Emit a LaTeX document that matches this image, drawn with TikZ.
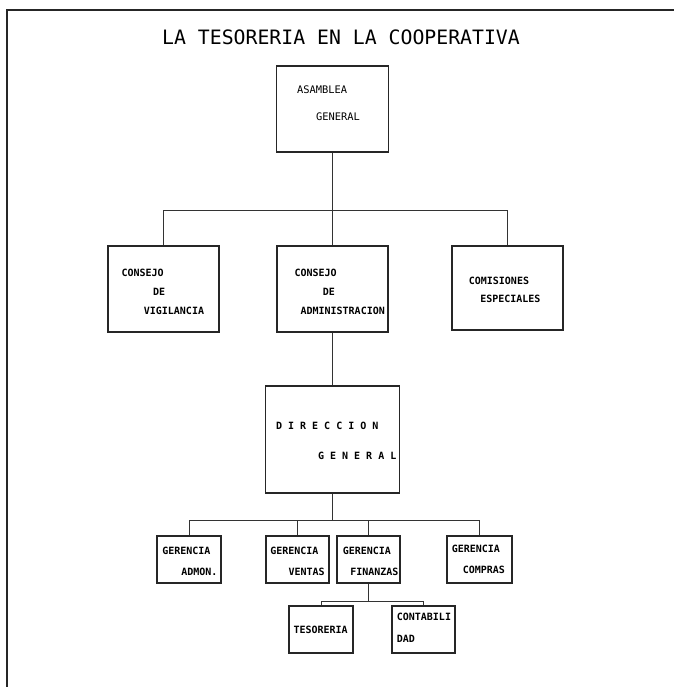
\documentclass[tikz,border=0pt]{standalone}
\usepackage{fontspec}
\setmonofont{DejaVu Sans Mono}
\usetikzlibrary{positioning}
\tikzstyle{cuadro} = [rectangle,
                     draw=black!85,
                     line width=1.3pt,
                     inner sep=0pt]
\tikzstyle{rotulo} = [align=left,
                     inner sep=0pt,
                     font=\ttfamily\bfseries\fontsize{10}{12}\selectfont]
\tikzstyle{enlace} = [draw=black!80,
                     line width=0.8pt]
\tikzstyle{organigrama} = [x=1pt,
                          y=-1pt]

\begin{document}
\begin{tikzpicture}[organigrama]
    \useasboundingbox (0,0) rectangle (674,687);
    \draw[line width=1.4pt, black!85] (7,687) -- (7,10) -- (674,10);
    \node (titulo) at (341,37) [font=\ttfamily\fontsize{19.8}{24}\selectfont] {LA TESORERIA EN LA COOPERATIVA};

    \node (asamblea) at (332.5,109) [cuadro, minimum width=112pt, minimum height=86pt] {};
    \node (asamblea-t) [below right=20.4pt and 21pt of asamblea.north west] [rotulo, font=\ttfamily\fontsize{10.4}{12}\selectfont] {ASAMBLEA\\[15pt]\hspace*{19pt}GENERAL};

    \node (vigilancia) at (163.5,289) [cuadro, minimum width=111pt, minimum height=86pt] {};
    \node (vigilancia-t) [below right=23.4pt and 14pt of vigilancia.north west] [rotulo] {CONSEJO\\[7pt]\hspace*{31.6pt}DE\\[7pt]\hspace*{22.3pt}VIGILANCIA};
    \node (administracion) at (332.5,289) [cuadro, minimum width=111pt, minimum height=86pt] {};
    \node (administracion-t) [below right=23.4pt and 18pt of administracion.north west] [rotulo] {CONSEJO\\[7pt]\hspace*{28.3pt}DE\\[7pt]\hspace*{6pt}ADMINISTRACION};
    \node (comisiones) at (507.5,288) [cuadro, minimum width=111pt, minimum height=84pt] {};
    \node (comisiones-t) [below right=31.2pt and 17.3pt of comisiones.north west] [rotulo] {COMISIONES\\[6pt]\hspace*{11.4pt}ESPECIALES};

    \node (direccion) at (332.5,439.5) [cuadro, minimum width=134pt, minimum height=107pt] {};
    \node (direccion-t) [below right=36.4pt and 11pt of direccion.north west] [rotulo] {D I R E C C I O N\\[18pt]\hspace*{42pt}G E N E R A L};

    \node (admon) at (189,559.5) [cuadro, minimum width=64pt, minimum height=47pt] {};
    \node (admon-t) [below right=11.2pt and 5.7pt of admon.north west] [rotulo] {GERENCIA\\[9pt]\hspace*{19pt}ADMON.};
    \node (ventas) at (297.5,559.5) [cuadro, minimum width=63pt, minimum height=47pt] {};
    \node (ventas-t) [below right=11.2pt and 4.7pt of ventas.north west] [rotulo] {GERENCIA\\[9pt]\hspace*{18.3pt}VENTAS};
    \node (finanzas) at (368.5,559.5) [cuadro, minimum width=63pt, minimum height=47pt] {};
    \node (finanzas-t) [below right=11.2pt and 6.3pt of finanzas.north west] [rotulo] {GERENCIA\\[9pt]\hspace*{7.4pt}FINANZAS};
    \node (compras) at (479.5,559.5) [cuadro, minimum width=65pt, minimum height=47pt] {};
    \node (compras-t) [below right=9.6pt and 5.3pt of compras.north west] [rotulo] {GERENCIA\\[9pt]\hspace*{11pt}COMPRAS};

    \node (tesoreria) at (321,629.5) [cuadro, minimum width=64pt, minimum height=47pt] {};
    \node (tesoreria-t) [below right=20.9pt and 5pt of tesoreria.north west] [rotulo] {TESORERIA};
    \node (contabilidad) at (423.5,629.5) [cuadro, minimum width=63pt, minimum height=47pt] {};
    \node (contabilidad-t) [below right=7.9pt and 5.3pt of contabilidad.north west] [rotulo] {CONTABILI\\[9.5pt]DAD};

    % lineas de mando
    \coordinate (bus1) at (0,210);
    \coordinate (bus2) at (0,520);
    \coordinate (bus3) at (0,601);
    \draw[enlace] (asamblea.south) -- (asamblea.south |- bus1);
    \draw[enlace] (vigilancia.north) |- (comisiones.north |- bus1) -- (comisiones.north);
    \draw[enlace] (administracion.north) -- (administracion.north |- bus1);
    \draw[enlace] (administracion.south) -- (direccion.north);
    \draw[enlace] (direccion.south) -- (direccion.south |- bus2);
    \draw[enlace] (admon.north) |- (compras.north |- bus2) -- (compras.north);
    \draw[enlace] (ventas.north) -- (ventas.north |- bus2);
    \draw[enlace] (finanzas.north) -- (finanzas.north |- bus2);
    \draw[enlace] (finanzas.south) -- (finanzas.south |- bus3);
    \draw[enlace] (tesoreria.north) |- (contabilidad.north |- bus3) -- (contabilidad.north);
\end{tikzpicture}
\end{document}
